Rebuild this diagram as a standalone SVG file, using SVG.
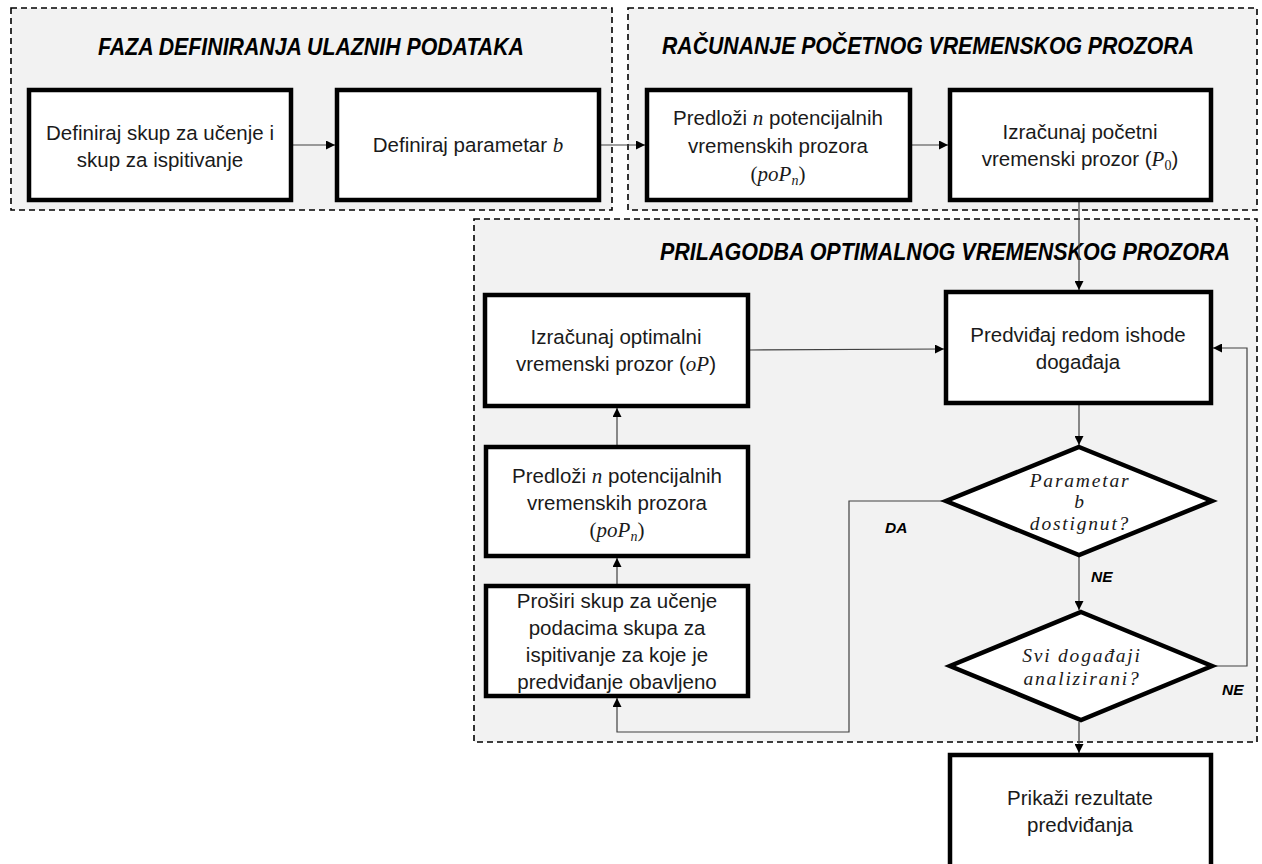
<svg xmlns="http://www.w3.org/2000/svg" width="1262" height="864" viewBox="0 0 1262 864">
<style>
.grp{fill:#f2f2f2;stroke:#000;stroke-width:1.6;stroke-dasharray:6,4}
.box{fill:#fff;stroke:#000;stroke-width:4.5}
.t{font-family:"Liberation Sans",Arial,sans-serif;font-size:20.5px;fill:#1a1a1a;text-anchor:middle}
.m{font-family:"Liberation Serif","Times New Roman",serif;font-style:italic;font-size:21px}
.u{font-family:"Liberation Serif","Times New Roman",serif;font-size:21px}
.sub{font-family:"Liberation Serif","Times New Roman",serif;font-size:14px}
.d{font-family:"Liberation Serif","Times New Roman",serif;font-style:italic;font-size:19.5px;fill:#1a1a1a;text-anchor:middle;letter-spacing:1.8px}
.ttl{font-family:"Liberation Sans",Arial,sans-serif;font-size:23px;font-weight:bold;font-style:italic;fill:#000}
.lbl{font-family:"Liberation Sans",Arial,sans-serif;font-size:15.5px;font-weight:bold;font-style:italic;fill:#000}
.c{fill:none;stroke:#404040;stroke-width:1.2}
</style>
<defs>
<marker id="ah" viewBox="0 0 10 10" refX="10" refY="5" markerWidth="9" markerHeight="9" markerUnits="userSpaceOnUse" orient="auto">
<path d="M0,0 L10,5 L0,10 z" fill="#000"/>
</marker>
</defs>

<g id="phase1">
<rect class="grp" x="11" y="8" width="601" height="202"/>
<text class="ttl" x="98" y="55" textLength="426" lengthAdjust="spacingAndGlyphs">FAZA DEFINIRANJA ULAZNIH PODATAKA</text>
</g>
<g id="phase2">
<rect class="grp" x="628" y="8" width="629" height="202"/>
<text class="ttl" x="662" y="54" textLength="532" lengthAdjust="spacingAndGlyphs">RAČUNANJE POČETNOG VREMENSKOG PROZORA</text>
</g>
<g id="phase3">
<rect class="grp" x="474" y="219" width="783" height="523"/>
<text class="ttl" x="660" y="260" textLength="570" lengthAdjust="spacingAndGlyphs">PRILAGODBA OPTIMALNOG VREMENSKOG PROZORA</text>
</g>

<g id="connectors">
<line class="c" x1="293" y1="145" x2="335" y2="145" marker-end="url(#ah)"/>
<line class="c" x1="601" y1="145" x2="645" y2="145" marker-end="url(#ah)"/>
<line class="c" x1="912" y1="145" x2="948" y2="145" marker-end="url(#ah)"/>
<line class="c" x1="1079" y1="202" x2="1079" y2="290" marker-end="url(#ah)"/>
<line class="c" x1="750" y1="350" x2="944" y2="349" marker-end="url(#ah)"/>
<line class="c" x1="617" y1="445" x2="617" y2="408" marker-end="url(#ah)"/>
<line class="c" x1="617" y1="584" x2="617" y2="558" marker-end="url(#ah)"/>
<line class="c" x1="1079" y1="405" x2="1079" y2="445" marker-end="url(#ah)"/>
<line class="c" x1="1079" y1="557" x2="1079" y2="610" marker-end="url(#ah)"/>
<polyline class="c" points="943,501 849,501 849,732 617,732 617,698" marker-end="url(#ah)"/>
<polyline class="c" points="1215,666 1247,666 1247,348 1213,348" marker-end="url(#ah)"/>
<line class="c" x1="1079" y1="722" x2="1079" y2="753" marker-end="url(#ah)"/>
<text class="lbl" x="885" y="533">DA</text>
<text class="lbl" x="1091" y="582">NE</text>
<text class="lbl" x="1222" y="695">NE</text>
</g>

<g id="n1">
<rect class="box" x="29" y="90" width="262" height="110"/>
<text class="t" x="160" y="140">Definiraj skup za učenje i</text>
<text class="t" x="160" y="167">skup za ispitivanje</text>
</g>
<g id="n2">
<rect class="box" x="337" y="90" width="262" height="110"/>
<text class="t" x="468" y="152">Definiraj parametar <tspan class="m">b</tspan></text>
</g>
<g id="n3">
<rect class="box" x="647" y="90" width="263" height="110"/>
<text class="t" x="778" y="125">Predloži <tspan class="m">n</tspan> potencijalnih</text>
<text class="t" x="778" y="153">vremenskih prozora</text>
<text class="t" x="778" y="181"><tspan class="u">(</tspan><tspan class="m">poP</tspan><tspan class="sub" font-style="italic" dy="4">n</tspan><tspan class="u" dy="-4">)</tspan></text>
</g>
<g id="n4">
<rect class="box" x="950" y="90" width="261" height="110"/>
<text class="t" x="1080" y="139">Izračunaj početni</text>
<text class="t" x="1080" y="166">vremenski prozor (<tspan class="m">P</tspan><tspan class="sub" dy="4">0</tspan><tspan dy="-4">)</tspan></text>
</g>
<g id="n5">
<rect class="box" x="946" y="292" width="265" height="111"/>
<text class="t" x="1078" y="342">Predviđaj redom ishode</text>
<text class="t" x="1078" y="369">događaja</text>
</g>
<g id="n6">
<rect class="box" x="485" y="295" width="263" height="111"/>
<text class="t" x="616" y="344">Izračunaj optimalni</text>
<text class="t" x="616" y="371">vremenski prozor (<tspan class="m">oP</tspan>)</text>
</g>
<g id="n7">
<rect class="box" x="486" y="447" width="262" height="109"/>
<text class="t" x="617" y="483">Predloži <tspan class="m">n</tspan> potencijalnih</text>
<text class="t" x="617" y="510">vremenskih prozora</text>
<text class="t" x="617" y="537"><tspan class="u">(</tspan><tspan class="m">poP</tspan><tspan class="sub" font-style="italic" dy="4">n</tspan><tspan class="u" dy="-4">)</tspan></text>
</g>
<g id="n8">
<rect class="box" x="486" y="586" width="262" height="110"/>
<text class="t" x="617" y="608">Proširi skup za učenje</text>
<text class="t" x="617" y="635">podacima skupa za</text>
<text class="t" x="617" y="662">ispitivanje za koje je</text>
<text class="t" x="617" y="689">predviđanje obavljeno</text>
</g>
<g id="d1">
<polygon class="box" points="1079,447 1212,501 1079,555 946,501"/>
<text class="d" x="1080" y="487">Parametar</text>
<text class="d" x="1080" y="508">b</text>
<text class="d" x="1080" y="530">dostignut?</text>
</g>
<g id="d2">
<polygon class="box" points="1081,612 1212,666 1081,720 950,666"/>
<text class="d" x="1082" y="662">Svi događaji</text>
<text class="d" x="1082" y="685">analizirani?</text>
</g>
<g id="n9">
<rect class="box" x="950" y="755" width="261" height="125"/>
<text class="t" x="1080" y="805">Prikaži rezultate</text>
<text class="t" x="1080" y="832">predviđanja</text>
</g>
</svg>
